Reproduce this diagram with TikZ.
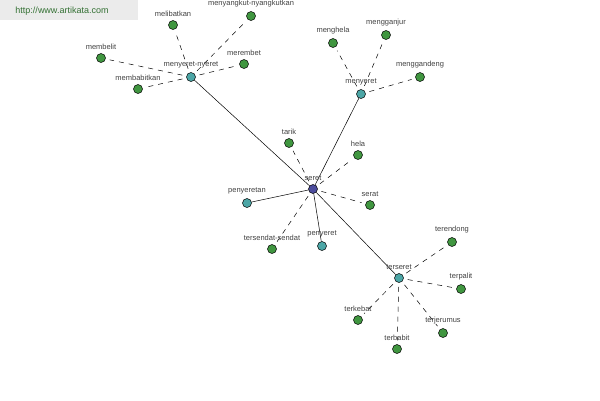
\documentclass[tikz,border=0pt]{standalone}
\usepackage{fontspec}
\setmainfont{Liberation Sans}
\begin{document}
\begin{tikzpicture}[x=1pt,y=-1pt,
  nd/.style={circle,draw=black,line width=0.5pt,minimum size=9pt,inner sep=0pt},
  gr/.style={nd,fill=green!45!black!75},
  tl/.style={nd,fill=teal!70!white},
  ct/.style={nd,fill=blue!45!black!70},
  lb/.style={font=\fontsize{7.5}{8}\selectfont,text=black!75,above=0.5pt},
  dl/.style={dashed,dash pattern=on 5pt off 5pt,line width=0.5pt},
  sl/.style={line width=0.5pt}]
\useasboundingbox (0,0) rectangle (600,400);
\fill[black!8] (0,0) rectangle (138,20);
\node[text=green!30!black!80,font=\fontsize{9}{10}\selectfont] (wm) at (62,11) {http://www.artikata.com};
\foreach \n/\s/\x/\y in {seret/ct/313/189, mn/tl/191/77, my/tl/361/94,
 pn/tl/247/203, py/tl/322/246, ts/tl/399/278,
 a/gr/101/58, b/gr/173/25, c/gr/251/16, d/gr/244/64,
 e/gr/138/89, f/gr/333/43, g/gr/386/35, h/gr/420/77,
 i/gr/289/143, j/gr/358/155, k/gr/370/205, l/gr/272/249,
 m/gr/452/242, n/gr/461/289, o/gr/443/333, p/gr/397/349, q/gr/358/320}
 {\node[\s] (\n) at (\x,\y) {}; }
\foreach \u/\v in {seret/mn,seret/my,seret/pn,seret/py,seret/ts} \draw[sl] (\u) -- (\v);
\foreach \u/\v in {mn/a,mn/b,mn/c,mn/d,mn/e,my/f,my/g,my/h,seret/i,seret/j,seret/k,seret/l,ts/m,ts/n,ts/o,ts/p,ts/q}
  \draw[dl,shorten <=4pt,shorten >=4pt] (\u) -- (\v);
\foreach \n/\t in {seret/seret, mn/menyeret-nyeret, my/menyeret, pn/penyeretan, py/penyeret, ts/terseret,
 a/membelit, b/melibatkan, c/menyangkut-nyangkutkan, d/merembet, e/membabitkan, f/menghela, g/mengganjur, h/menggandeng,
 i/tarik, j/hela, k/serat, l/tersendat-sendat, m/terendong, n/terpalit, o/terjerumus, p/terbabit, q/terkebat}
 {\node[lb] at (\n.north) {\t};}
\end{tikzpicture}
\end{document}
